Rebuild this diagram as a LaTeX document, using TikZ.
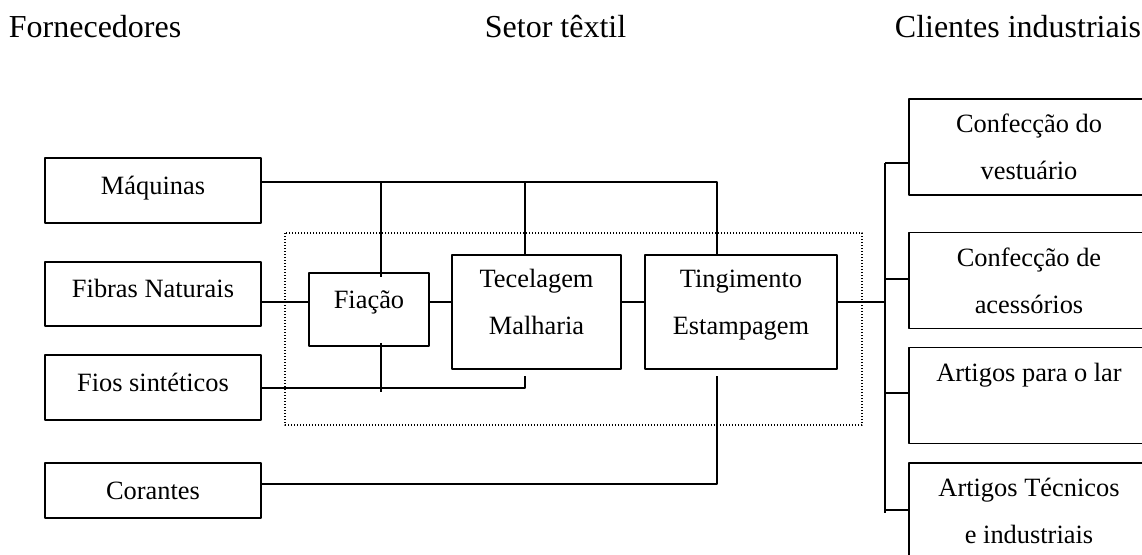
\documentclass[tikz,border=0pt]{standalone}
\usepackage{fontspec}
\setmainfont{Liberation Serif}
\usetikzlibrary{calc}
\begin{document}
\begin{tikzpicture}[x=0.5pt, y=-0.5pt, line join=round, line width=0.9pt, font=\fontsize{13.2}{23.5}\selectfont]
				\tikzset{caixa/.style={draw, align=center, inner sep=0pt, minimum width=108pt, minimum height=32.5pt},
					cliente/.style={caixa, minimum width=120pt, minimum height=48pt},
					sobe/.style={text depth=#1},
					titulo/.style={font=\fontsize{16}{19}\selectfont, inner sep=0pt},
					setor/.style={line width=0.7pt, dash pattern=on 0.7pt off 0.8pt}}
				\clip (0,0) rectangle (1142,554);
				% titulos
				\node[titulo, anchor=base west] (tforn) at (8,37) {Fornecedores};
				\node[titulo, anchor=base west] (tset) at (484,37) {Setor têxtil};
				\node[titulo, anchor=base west] (tcli) at (894,37) {Clientes industriais};
				% fornecedores
				\node[caixa, sobe=5pt] (maq) at (153,190.5) {Máquinas};
				\node[caixa, sobe=6pt, minimum height=32pt] (fib) at (153,294) {Fibras Naturais};
				\node[caixa, sobe=5pt] (fio) at (153,387.5) {Fios sintéticos};
				\node[caixa, minimum height=27.5pt] (cor) at (153,490.5) {Corantes};
				% setor textil
				\draw[setor] (285,233) rectangle (862,425);
				\node[caixa, sobe=10pt, minimum width=60pt, minimum height=36.5pt] (fia) at (369,309.5) {Fiação};
				\node[caixa, sobe=10pt, minimum width=84.5pt, minimum height=57pt] (tec) at (536.5,312) {Tecelagem\\Malharia};
				\node[caixa, sobe=10pt, minimum width=96pt, minimum height=57pt] (tin) at (741,312) {Tingimento\\Estampagem};
				% clientes
				\node[cliente] (cli1) at (1029,147) {Confecção do\\vestuário};
				\node[cliente] (cli2) at (1029,280.5) {Confecção de\\acessórios};
				\node[cliente] (cli3) at (1029,395.5) {Artigos para o lar\\\mbox{}};
				\node[cliente] (cli4) at (1029,511) {Artigos Técnicos\\e industriais};
				\path (381,182) coordinate (m1)
				(525,182) coordinate (m2)
				(717,182) coordinate (m3)
				(0,302) coordinate (r)
				(525,388) coordinate (f2)
				(717,484) coordinate (c3)
				(885,302) coordinate (bus)
				(885,163) coordinate (bt)
				(885,513) coordinate (bb)
				;
				% ligacoes
				\draw (maq.east |- m1) -- (m3) -- (m3 |- tin.north);
				\draw (m1) -- ($(m1 |- fia.north)+(0,5)$);
				\draw (m2) -- (m2 |- tec.north);
				\draw (fio.east |- f2) -- (f2) -- ($(f2 |- tec.south)+(0,6)$);
				\draw ($(m1 |- fia.south)+(0,-4)$) -- ++(0,49);
				\draw (cor.east |- c3) -- (c3) -- ($(c3 |- tin.south)+(0,6)$);
				\foreach \a/\b in {fib/fia,fia/tec,tec/tin}
				\draw (\a.east |- r) -- (\b.west |- r);
				\draw (tin.east |- r) -- (bus);
				\draw (bt) -- (bb);
				\foreach \c/\y in {cli1/163,cli2/279,cli3/393,cli4/510}{
					\path (885,\y) coordinate (s\c);
					\draw (s\c) -- (s\c -| \c.west);
				}
		\end{tikzpicture}
\end{document}
